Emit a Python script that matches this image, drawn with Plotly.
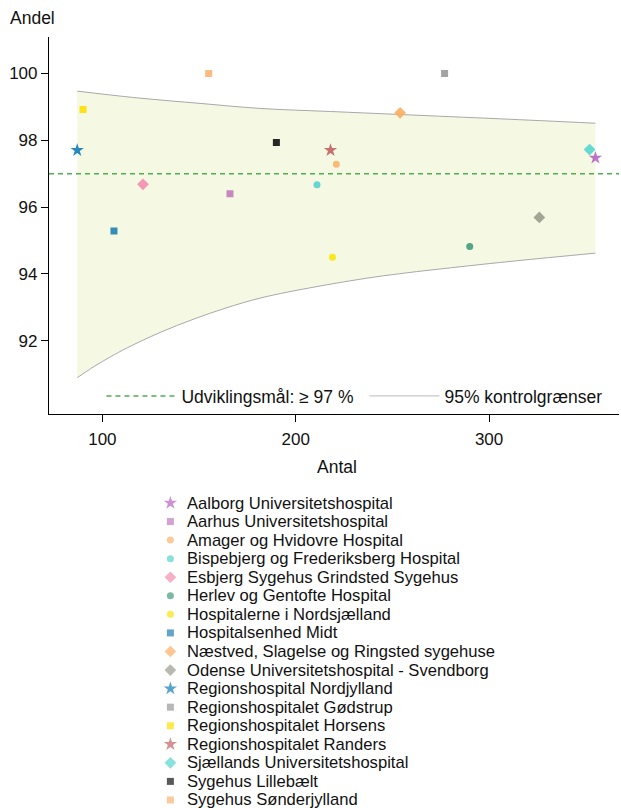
import plotly.graph_objects as go

# ---------------- data ----------------
hospitals = [
    "Aalborg Universitetshospital",
    "Aarhus Universitetshospital",
    "Amager og Hvidovre Hospital",
    "Bispebjerg og Frederiksberg Hospital",
    "Esbjerg Sygehus Grindsted Sygehus",
    "Herlev og Gentofte Hospital",
    "Hospitalerne i Nordsjælland",
    "Hospitalsenhed Midt",
    "Næstved, Slagelse og Ringsted sygehuse",
    "Odense Universitetshospital - Svendborg",
    "Regionshospital Nordjylland",
    "Regionshospitalet Gødstrup",
    "Regionshospitalet Horsens",
    "Regionshospitalet Randers",
    "Sjællands Universitetshospital",
    "Sygehus Lillebælt",
    "Sygehus Sønderjylland",
]
antal = [355, 166, 221, 211, 121, 290, 219, 106, 254, 326, 87, 277, 90, 218, 352, 190, 155]
andel = [97.47, 96.40, 97.28, 96.67, 96.68, 94.82, 94.50, 95.28, 98.82, 95.69,
         97.70, 100.0, 98.92, 97.70, 97.72, 97.93, 100.0]
symbols = ["star", "square", "circle", "circle", "diamond", "circle", "circle", "square",
           "diamond", "diamond", "star", "square", "square", "star", "diamond", "square", "square"]
colors = ["#B565C0", "#C27BBC", "#F9B36B", "#55D3CF", "#F48DAE", "#3E9C7A", "#FBE40A", "#1F7FB3",
          "#FDAE62", "#9A9C8C", "#0F7CB8", "#999999", "#FCE000", "#C46262", "#55D6CD", "#111111", "#F9B272"]

# control limits
upper_n = [87, 116, 151, 182, 218, 254, 306, 355]
upper_v = [99.47, 99.28, 99.10, 98.95, 98.86, 98.77, 98.64, 98.51]
lower_n = [87, 95.5, 104, 113, 130, 147, 164, 182, 211, 245, 280, 314, 355]
lower_v = [90.89, 91.22, 91.51, 91.79, 92.25, 92.64, 92.98, 93.28, 93.62, 93.94, 94.18, 94.39, 94.62]

goal = 97
goal_label = "Udviklingsmål: ≥ 97 %"
limit_label = "95% kontrolgrænser"

x_range = [72.4, 367.2]
y_range = [89.82, 101.09]
x_ticks = [100, 200, 300]
y_ticks = [92, 94, 96, 98, 100]

FONT = "Arial, Liberation Sans, sans-serif"
TXT = "#111111"
TXT_SIZE = 17.5
KEY_SIZE = 16.6
TICK_SIZE = 17

# ---------------- layout geometry (pixels) ----------------
W, H = 621, 808
M_L, M_R, M_T = 48.5, 2, 37
PLOT_BOTTOM_PX = 413.5
paper_h = H - M_T
main_domain_bottom = (H - PLOT_BOTTOM_PX) / paper_h

# key below the chart (one row per hospital)
KEY_TOP_PX = 494
KEY_FIRST_ROW_PX = 503
KEY_ROW_PX = 18.56
KEY_SYMBOL_PX = 170
key_domain_top = (H - KEY_TOP_PX) / paper_h
key_range = [-(H - KEY_FIRST_ROW_PX) / KEY_ROW_PX, (KEY_FIRST_ROW_PX - KEY_TOP_PX) / KEY_ROW_PX]
key_x = (KEY_SYMBOL_PX - M_L) / (W - M_L - M_R)
key_rows = [-i for i in range(len(hospitals))]

fig = go.Figure()

# control band (lower, then upper filled down to it)
fig.add_trace(go.Scatter(
    x=lower_n, y=lower_v, mode="lines", line=dict(color="#A8A8A8", width=1, shape="spline"),
    showlegend=False, hoverinfo="skip"))
fig.add_trace(go.Scatter(
    x=upper_n, y=upper_v, mode="lines", line=dict(color="#A8A8A8", width=1, shape="spline"),
    fill="tonexty", fillcolor="#F5F8E3", showlegend=False, hoverinfo="skip"))

# goal line
fig.add_hline(y=goal, line=dict(color="#4CAF50", width=1.5, dash="5px,4px"), layer="above")

# inner legend entries
fig.add_trace(go.Scatter(
    x=[None], y=[None], mode="lines", line=dict(color="#4CAF50", width=1.5, dash="5px,4px"),
    name=goal_label, legend="legend2", showlegend=True, legendrank=1))
fig.add_trace(go.Scatter(
    x=[None], y=[None], mode="lines", line=dict(color="#C8C8C8", width=1.2),
    name=limit_label, legend="legend2", showlegend=True, legendrank=2))

size_map = {"star": 10, "square": 7, "circle": 7, "diamond": 9}
sizes = [size_map[s] for s in symbols]

# hospital points
for h, n, v, s, c, sz in zip(hospitals, antal, andel, symbols, colors, sizes):
    fig.add_trace(go.Scatter(
        x=[n], y=[v], mode="markers", name=h, showlegend=False,
        marker=dict(symbol=s, color=c, size=sz, opacity=0.9, line=dict(width=0))))

# key: symbols + names below the chart
fig.add_trace(go.Scatter(
    x=[key_x] * len(hospitals), y=key_rows, mode="markers", xaxis="x2", yaxis="y2",
    marker=dict(symbol=symbols, color=colors, size=sizes, line=dict(width=0)),
    showlegend=False, hoverinfo="skip"))

annotations = [
    dict(text="Andel", xref="paper", yref="paper", x=-0.072, y=(H - 18) / paper_h,
         xanchor="left", yanchor="middle", showarrow=False, font=dict(size=TXT_SIZE, color=TXT)),
    dict(text="Antal", xref="paper", yref="paper", x=0.506, y=(H - 467) / paper_h,
         xanchor="center", yanchor="middle", showarrow=False, font=dict(size=TXT_SIZE, color=TXT)),
]
for h, r in zip(hospitals, key_rows):
    annotations.append(dict(text=h, xref="x2", yref="y2", x=key_x, y=r, xanchor="left",
                            yanchor="middle", xshift=16, showarrow=False, borderpad=0,
                            font=dict(size=KEY_SIZE, color=TXT)))

fig.update_layout(
    width=W, height=H,
    margin=dict(l=M_L, r=M_R, t=M_T, b=0, autoexpand=False),
    paper_bgcolor="white", plot_bgcolor="white",
    font=dict(family=FONT, size=TXT_SIZE, color=TXT),
    xaxis=dict(range=x_range, tickvals=x_ticks, showgrid=False, zeroline=False,
               showline=True, linecolor="#000", linewidth=1.2, ticks="outside",
               ticklen=7, tickcolor="#000", ticklabelstandoff=3,
               tickfont=dict(size=TICK_SIZE, color=TXT), anchor="y"),
    yaxis=dict(range=y_range, tickvals=y_ticks, showgrid=False, zeroline=False,
               domain=[main_domain_bottom, 1],
               showline=True, linecolor="#000", linewidth=1.2, ticks="outside",
               ticklen=7, tickcolor="#000", ticklabelstandoff=0,
               tickfont=dict(size=TICK_SIZE, color=TXT), anchor="x"),
    xaxis2=dict(range=[0, 1], visible=False, anchor="y2", fixedrange=True),
    yaxis2=dict(range=key_range, domain=[0, key_domain_top], visible=False,
                anchor="x2", fixedrange=True),
    legend2=dict(x=0.092, y=(H - 396) / paper_h, xanchor="left", yanchor="middle",
                 orientation="h", font=dict(size=TXT_SIZE, color=TXT),
                 bgcolor="rgba(0,0,0,0)", itemwidth=70, entrywidth=178),
    annotations=annotations,
)

fig.write_html("out.html", config={"displayModeBar": False},
               post_script="document.body.style.margin='0';document.body.style.padding='0';")
